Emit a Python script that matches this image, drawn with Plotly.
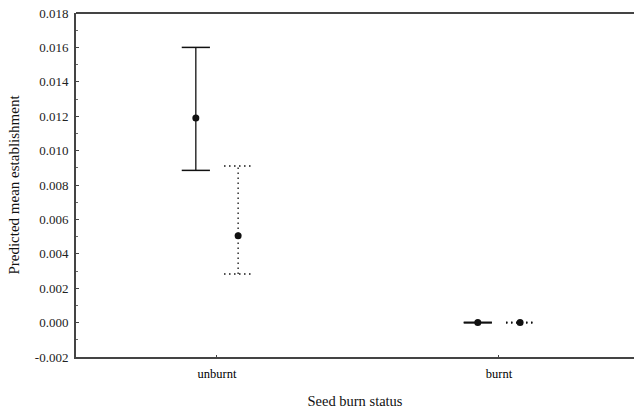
import plotly.graph_objects as go

# Predicted mean establishment by seed burn status, two model series
categories = ["unburnt", "burnt"]
cat_pos = [0, 1]

series_a_mean = [0.01190, 0.00000]
series_a_low = [0.00885, -0.00002]
series_a_high = [0.01600, 0.00002]

series_b_mean = [0.00505, 0.00000]
series_b_low = [0.00282, -0.00002]
series_b_high = [0.00910, 0.00002]

y_ticks = [-0.002, 0.000, 0.002, 0.004, 0.006, 0.008, 0.010, 0.012, 0.014, 0.016, 0.018]

offset = 0.075      # horizontal shift of each series from the category centre
cap = 0.05          # half-width of the error bar caps

FONT = "Liberation Serif, Times New Roman, serif"
INK = "#111111"

fig = go.Figure()


def add_series(means, lows, highs, shift, dash):
    for x0, m, lo, hi in zip(cat_pos, means, lows, highs):
        x = x0 + shift
        # vertical whisker
        fig.add_trace(go.Scatter(x=[x, x], y=[lo, hi], mode="lines",
                                 line=dict(color=INK, width=1.3, dash=dash),
                                 showlegend=False, hoverinfo="skip"))
        # caps
        for yv in (lo, hi):
            fig.add_trace(go.Scatter(x=[x - cap, x + cap], y=[yv, yv], mode="lines",
                                     line=dict(color=INK, width=1.5, dash=dash),
                                     showlegend=False, hoverinfo="skip"))
    fig.add_trace(go.Scatter(x=[p + shift for p in cat_pos], y=means, mode="markers",
                             marker=dict(color=INK, size=7, symbol="circle"),
                             showlegend=False))


add_series(series_a_mean, series_a_low, series_a_high, -offset, "solid")
add_series(series_b_mean, series_b_low, series_b_high, offset, "1.5px,3.5px")

# top frame line
fig.add_shape(type="line", xref="paper", yref="paper", x0=0, x1=1, y0=1, y1=1,
              line=dict(color="#444444", width=2))

fig.update_layout(
    width=634, height=411,
    margin=dict(l=76, r=0, t=13, b=54),
    paper_bgcolor="white", plot_bgcolor="white",
    font=dict(family=FONT, color=INK, size=12),
    xaxis=dict(range=[-0.5, 1.479], tickvals=cat_pos, ticktext=categories,
               showgrid=False, zeroline=False, showline=True, linecolor="#444444",
               linewidth=2, ticks="inside", ticklen=2, tickcolor="#444444",
               ticklabelstandoff=4,
               tickfont=dict(size=12.5, family=FONT, color="#000000"),
               title=dict(text="Seed burn status", font=dict(size=14.5, family=FONT), standoff=16)),
    yaxis=dict(range=[-0.002, 0.018], tickvals=y_ticks,
               ticktext=[f"{v:.3f}" for v in y_ticks],
               showgrid=False, zeroline=False, showline=True, linecolor="#444444",
               linewidth=2, ticks="inside", ticklen=3, tickcolor="#444444",
               minor=dict(ticks="inside", ticklen=2, tickcolor="#666666", dtick=0.001),
               ticklabelstandoff=3,
               tickfont=dict(size=13, family=FONT, color="#222222"),
               title=dict(text="Predicted mean establishment", font=dict(size=15, family=FONT), standoff=12)),
)

fig.write_html("out.html")
